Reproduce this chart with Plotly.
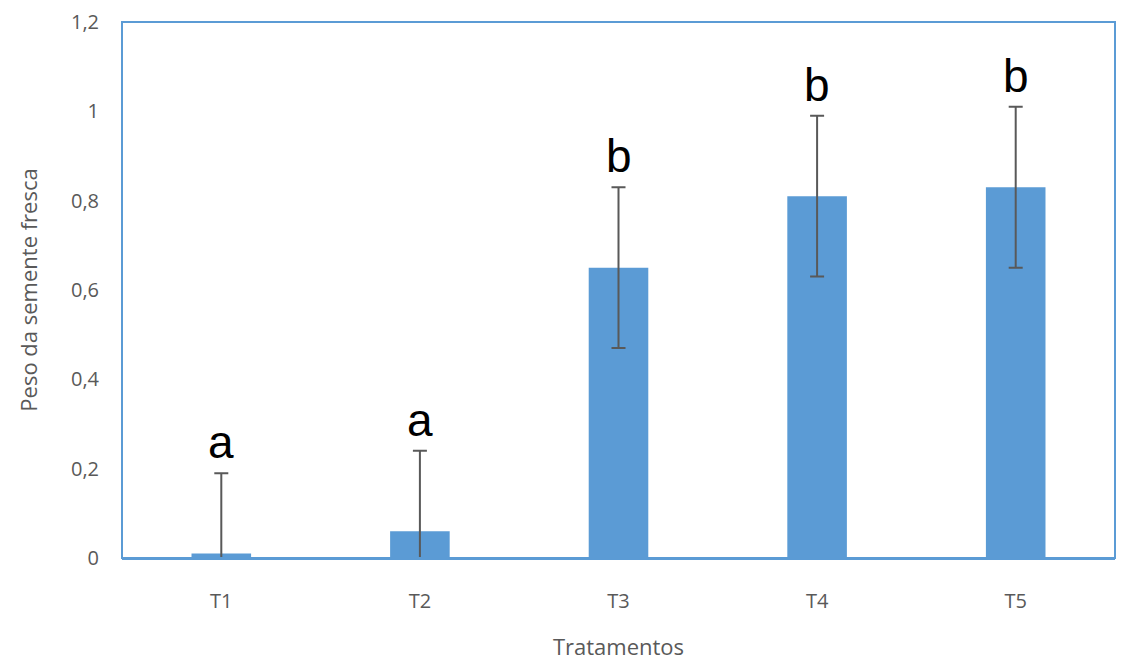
import plotly.graph_objects as go

categories = ["T1", "T2", "T3", "T4", "T5"]
values = [0.01, 0.06, 0.65, 0.81, 0.83]
errors = [0.18, 0.18, 0.18, 0.18, 0.18]
letters = ["a", "a", "b", "b", "b"]
y_ticks = [0, 0.2, 0.4, 0.6, 0.8, 1.0, 1.2]
y_tick_labels = ["0", "0,2", "0,4", "0,6", "0,8", "1", "1,2"]

fig = go.Figure()
fig.add_trace(go.Bar(
    x=categories, y=values, width=0.3,
    marker=dict(color="#5B9BD5", line=dict(width=0)),
    error_y=dict(type="data", array=errors, visible=True,
                 color="#595959", thickness=2, width=7),
))

for c, v, e, l in zip(categories, values, errors, letters):
    fig.add_annotation(x=c, y=v + e, text=l, showarrow=False,
                       yanchor="bottom", yshift=3,
                       font=dict(family="Liberation Sans, Arial", size=46, color="black"))

fig.update_layout(
    width=1129, height=660,
    margin=dict(l=114, r=22, t=14, b=110, autoexpand=False),
    plot_bgcolor="white", paper_bgcolor="white",
    showlegend=False,
    font=dict(family="Open Sans, Lato, sans-serif", color="#595959", size=20),
    shapes=[dict(type="rect", xref="paper", yref="paper", x0=0, y0=0, x1=1, y1=1,
                 line=dict(color="#5B9BD5", width=2), layer="above")],
)
fig.update_xaxes(showline=True, linecolor="#5B9BD5", linewidth=2, ticks="",
                 automargin=False, ticklabelstandoff=24,
                 title=dict(text="Tratamentos", standoff=27, font=dict(size=22)),
                 tickfont=dict(size=20))
fig.update_yaxes(range=[0, 1.2], tickvals=y_ticks, ticktext=y_tick_labels,
                 showgrid=False, zeroline=False, showline=False, ticks="",
                 automargin=False, ticklabelstandoff=22, ticklabeloverflow="allow",
                 title=dict(text="Peso da semente fresca", standoff=27, font=dict(size=22)),
                 tickfont=dict(size=20))

fig.write_html("out.html")
